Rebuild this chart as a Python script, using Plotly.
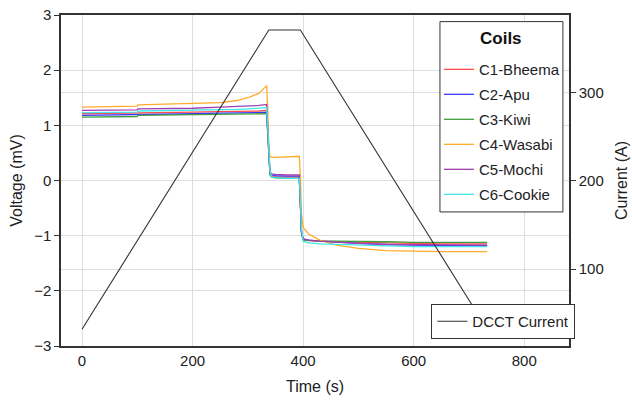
import plotly.graph_objects as go

# ---- data ----
time_s = [0, 100, 101, 200, 250, 280, 300, 320, 334, 336, 338, 340, 343, 350, 370, 393,
          395, 397, 400, 410, 430, 460, 500, 550, 600, 650, 733]

c1_bheema = [1.21, 1.22, 1.23, 1.24, 1.25, 1.25, 1.26, 1.26, 1.27, 0.90, 0.35, 0.13, 0.08, 0.07, 0.06, 0.06,
             -0.40, -0.95, -1.07, -1.09, -1.10, -1.11, -1.12, -1.13, -1.14, -1.15, -1.15]
c2_apu = [1.18, 1.19, 1.20, 1.21, 1.22, 1.22, 1.23, 1.23, 1.24, 0.88, 0.36, 0.14, 0.10, 0.09, 0.08, 0.08,
          -0.40, -0.92, -1.06, -1.08, -1.10, -1.12, -1.14, -1.16, -1.17, -1.18, -1.18]
c3_kiwi = [1.15, 1.16, 1.18, 1.19, 1.20, 1.20, 1.20, 1.21, 1.21, 0.85, 0.33, 0.10, 0.06, 0.05, 0.04, 0.04,
           -0.42, -0.95, -1.08, -1.09, -1.10, -1.10, -1.11, -1.11, -1.12, -1.12, -1.12]
c4_wasabi = [1.33, 1.35, 1.37, 1.39, 1.41, 1.45, 1.50, 1.58, 1.72, 1.30, 0.60, 0.44, 0.42, 0.42, 0.43, 0.44,
             0.10, -0.60, -0.85, -0.97, -1.08, -1.17, -1.23, -1.27, -1.28, -1.29, -1.29]
c5_mochi = [1.27, 1.28, 1.30, 1.31, 1.33, 1.34, 1.35, 1.36, 1.38, 0.95, 0.40, 0.16, 0.12, 0.11, 0.10, 0.10,
            -0.40, -0.92, -1.06, -1.08, -1.10, -1.12, -1.14, -1.16, -1.16, -1.17, -1.17]
c6_cookie = [1.23, 1.24, 1.26, 1.27, 1.28, 1.29, 1.30, 1.31, 1.32, 1.00, 0.50, 0.18, 0.07, 0.05, 0.04, 0.04,
             -0.30, -0.85, -1.10, -1.13, -1.15, -1.16, -1.18, -1.19, -1.20, -1.20, -1.20]

coil_names = ["C1-Bheema", "C2-Apu", "C3-Kiwi", "C4-Wasabi", "C5-Mochi", "C6-Cookie"]
coil_values = [c1_bheema, c2_apu, c3_kiwi, c4_wasabi, c5_mochi, c6_cookie]
coil_colors = ["#ff4c4c", "#3a3aff", "#3f9f3f", "#ffaa2a", "#a23fb0", "#3fe8e8"]
legend_title = "Coils"

dcct_time = [0, 338, 395, 733]
dcct_current = [32, 371, 371, 32]

font_family = "Liberation Sans, Arial, sans-serif"

fig = go.Figure()
for i, (name, vals, col) in enumerate(zip(coil_names, coil_values, coil_colors)):
    fig.add_trace(go.Scatter(x=time_s, y=vals, mode="lines", name=name,
                             line=dict(color=col, width=1.3), legend="legend",
                             legendgroup=name))

fig.add_trace(go.Scatter(x=dcct_time, y=dcct_current, mode="lines", name="DCCT Current",
                         line=dict(color="#333333", width=1.1), yaxis="y2", legend="legend2"))

grid = "#dedede"
axis_line = "#333333"

# box and title of the "Coils" legend (paper coordinates of the plot area)
fig.add_shape(type="rect", xref="paper", yref="paper", x0=0.746, x1=0.988, y0=0.405, y1=0.980,
              fillcolor="white", line=dict(color="#333333", width=1), layer="above")
fig.add_annotation(xref="paper", yref="paper", x=0.867, y=0.9305, text="<b>%s</b>" % legend_title,
                   showarrow=False, xanchor="center", yanchor="middle",
                   font=dict(size=17, family=font_family, color="#111111"))

fig.update_layout(
    width=632, height=401,
    margin=dict(l=61, r=63, t=15, b=55, autoexpand=False),
    paper_bgcolor="white", plot_bgcolor="white",
    font=dict(family=font_family, size=15, color="#222222"),
    xaxis=dict(range=[-38, 881], tickvals=[0, 200, 400, 600, 800], automargin=False,
               showgrid=True, gridcolor=grid, gridwidth=1, zeroline=False,
               showline=True, linecolor=axis_line, linewidth=1.5, mirror=True,
               ticks="", title=dict(text="Time (s)", font=dict(size=16), standoff=13)),
    yaxis=dict(range=[-3, 3], dtick=1, showgrid=True, gridcolor=grid, zeroline=False,
               showline=True, linecolor=axis_line, linewidth=1.5, automargin=False,
               ticks="outside", ticklen=5, tickcolor=axis_line,
               title=dict(text="Voltage (mV)", font=dict(size=16), standoff=8)),
    yaxis2=dict(range=[13, 388], tickvals=[100, 200, 300], overlaying="y", side="right",
                showgrid=True, gridcolor=grid, zeroline=False, automargin=False,
                showline=True, linecolor=axis_line, linewidth=1.5,
                ticks="outside", ticklen=5, tickcolor=axis_line,
                title=dict(text="Current (A)", font=dict(size=16), standoff=13)),
    legend=dict(x=0.744, y=0.885, xanchor="left", yanchor="top",
                bgcolor="rgba(0,0,0,0)", borderwidth=0,
                traceorder="grouped", tracegroupgap=2.5, font=dict(size=15)),
    legend2=dict(x=0.729, y=0.021, xanchor="left", yanchor="bottom",
                 bgcolor="white", bordercolor="#333333", borderwidth=1,
                 font=dict(size=15)),
    showlegend=True,
)

fig.write_html("out.html")
